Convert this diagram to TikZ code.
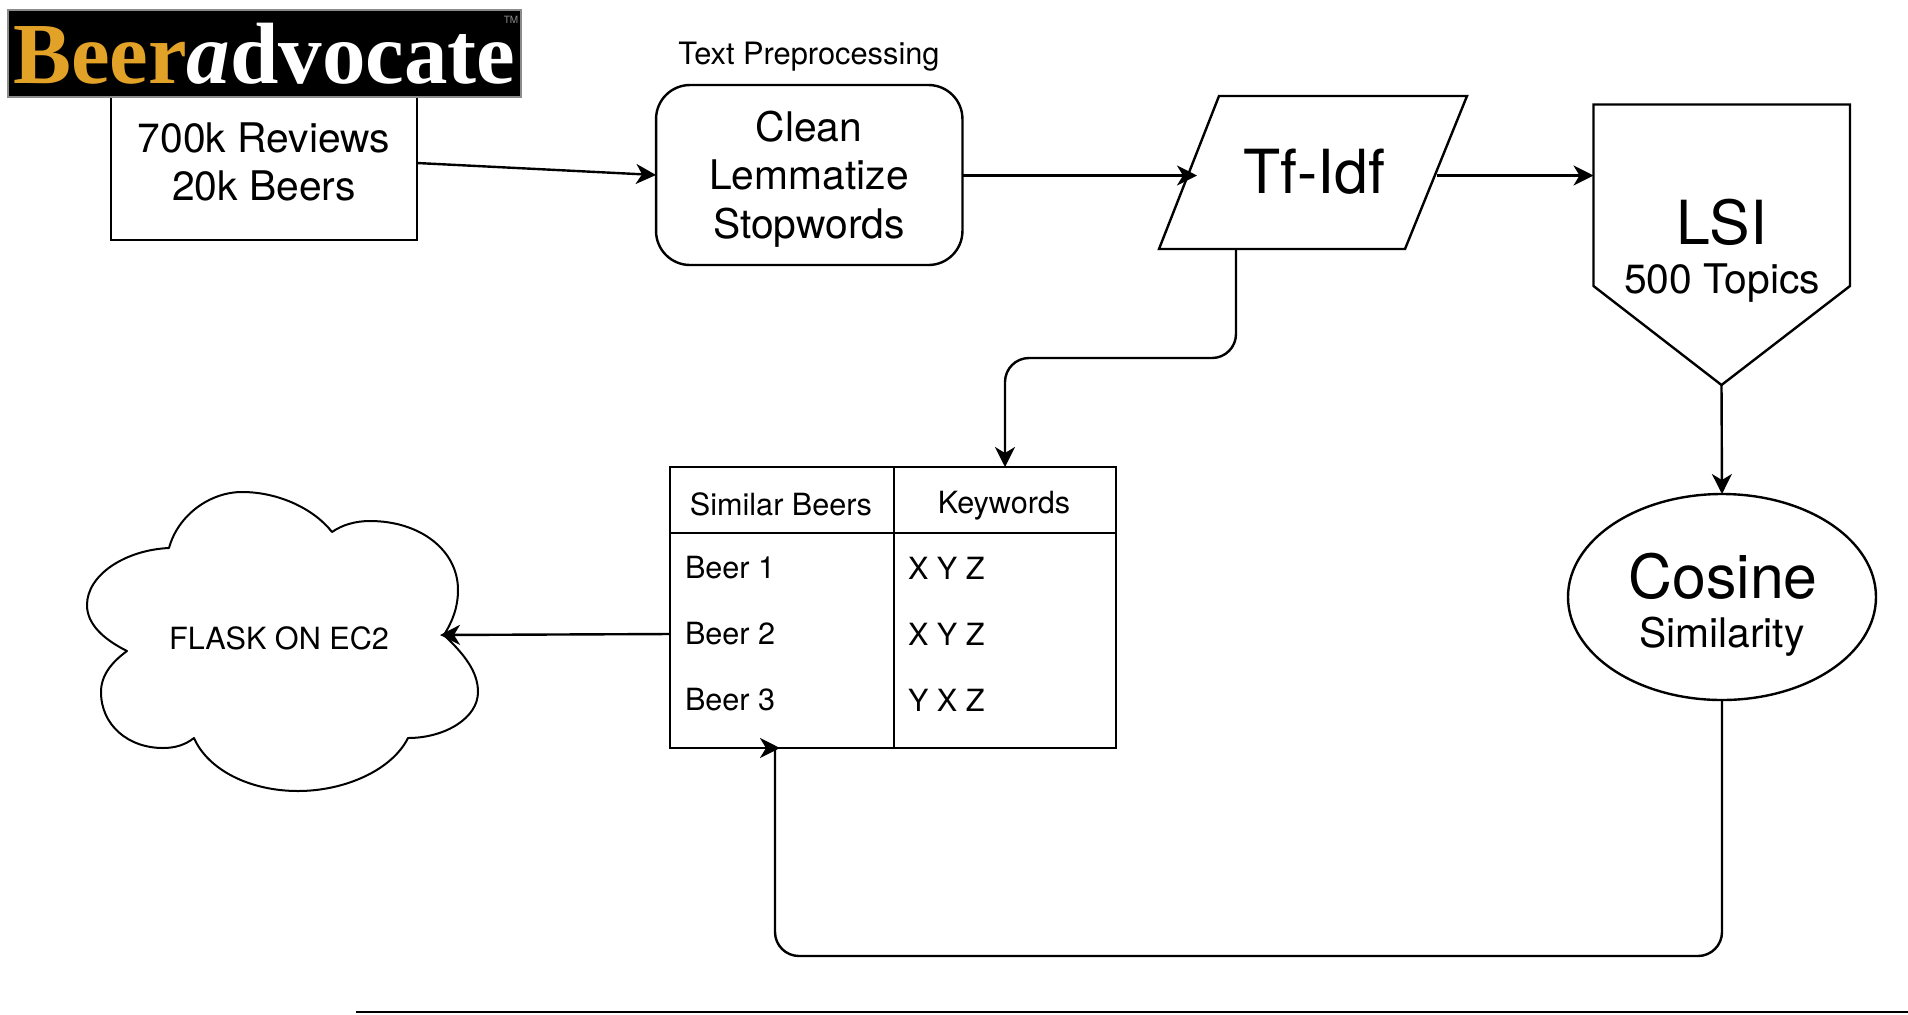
\documentclass[tikz,border=0pt]{standalone}
\usepackage{fontspec}
\setmainfont{TeX Gyre Heros}
\newfontfamily\logofont{Liberation Serif}
\usetikzlibrary{arrows.meta,shapes.geometric}
\definecolor{logogold}{RGB}{226,162,40}
\tikzset{
	px/.style={x=0.5pt,y=-0.5pt},
	flow/.style={draw,line width=1.2pt,-{Stealth[length=10pt,width=10pt,inset=3pt]}},
	stepbox/.style={draw,line width=1.2pt,inner sep=0pt,outer sep=0pt},
	plain/.style={inner sep=0pt,outer sep=0pt,align=center},
	big/.style={plain,font=\fontsize{30.4}{36}\selectfont},
	mid/.style={plain,font=\fontsize{20.4}{24.3}\selectfont},
	small/.style={plain,font=\fontsize{15.3}{18}\selectfont}
}
\begin{document}
\begin{tikzpicture}[px]
		\useasboundingbox (0,0) rectangle (1908,1014);

		\node[stepbox,minimum width=153pt,minimum height=71.5pt] (reviews) at (264,168.5) {};
		\node[stepbox,draw=black!45,fill=black,minimum width=256.5pt,minimum height=43.5pt] (logo) at (264.5,53.5) {};
		\node[plain,anchor=base west,font=\logofont\bfseries\fontsize{43.5}{44}\selectfont] (logotext) at (13,83)
			{\textcolor{logogold}{Beer}\textcolor{white}{\itshape a}\textcolor{white}{dvocate}};
		\node[plain,text=black!45,font=\fontsize{5}{6}\selectfont] (logotm) at (511,20) {TM};
		\node[mid] (reviewstext) at (264,162) {700k Reviews\\20k Beers};

		\node[plain,font=\fontsize{15.4}{19}\selectfont] (prelabel) at (809,57) {Text Preprocessing};
		\node[stepbox,rounded corners=17pt,minimum width=153.2pt,minimum height=90pt] (clean) at (809.25,175) {};
		\node[mid] (cleantext) at (809,179) {Clean\\Lemmatize\\Stopwords};

		\draw[line width=1.2pt,line join=miter] (1219,96) -- (1467,96) -- (1405,249) -- (1159,249) -- cycle;
		\node[big] (tfidf) at (1314,172) {Tf-Idf};
		\coordinate (tfidfin) at (1197,175.5);
		\coordinate (tfidfout) at (1437,175.5);
		\coordinate (tfidfdown) at (1236,249);

		\draw[line width=1.2pt,line join=miter] (1593.5,104.5) -- (1850,104.5) -- (1850,286) -- (1721.5,385) coordinate (lsitip) -- (1593.5,286) -- cycle;
		\coordinate (lsiin) at (1593.5,175.5);
		\node[big] (lsi) at (1722,222) {LSI};
		\node[mid] (topics) at (1722,283) {500 Topics};

		\node[stepbox,ellipse,minimum width=154pt,minimum height=103pt] (cosine) at (1722,597) {};
		\node[big] (cosinetext) at (1723,576) {Cosine};
		\node[mid] (similarity) at (1722,637) {Similarity};

		\node[stepbox,minimum width=223pt,minimum height=140.5pt] (beers) at (893,607.5) {};
		\draw[line width=1.2pt] (894,748) -- (894,467);
		\draw[line width=1.2pt] (670.5,533) -- (1116,533);
		\node[small] (simhead) at (781,504) {Similar Beers};
		\node[small] (keyhead) at (1004,506) {Keywords};
		\node[small,anchor=west] (beer1) at (685,568) {Beer 1};
		\node[small,anchor=west] (beer2) at (685,634) {Beer 2};
		\node[small,anchor=west] (beer3) at (685,700) {Beer 3};
		\node[small,anchor=west] (key1) at (908,568) {X Y Z};
		\node[small,anchor=west] (key2) at (908,634) {X Y Z};
		\node[small,anchor=west] (key3) at (908,700) {Y X Z};
		\coordinate (beersin) at (1005,467);
		\coordinate (beersout) at (670.5,634);
		\coordinate (beerstipa) at (758,748);
		\coordinate (beerstipb) at (780,748);

		\draw[line width=1pt,line join=round] (169,548) .. controls (178,515) and (210,492) .. (242,492) .. controls (280,492) and (315,510) .. (332,532)
		.. controls (342,525) and (355,521) .. (370,521) .. controls (420,521) and (458,550) .. (458,590) .. controls (458,608) and (452,622) .. (444,635)
		.. controls (465,655) and (478,672) .. (478,692) .. controls (478,718) and (445,738) .. (408,738)
		.. controls (392,770) and (345,791) .. (298,791) .. controls (250,791) and (208,770) .. (194,738)
		.. controls (185,745) and (175,748) .. (163,748) .. controls (128,748) and (101,725) .. (101,692) .. controls (101,675) and (112,662) .. (127,651)
		.. controls (105,640) and (87,625) .. (87,605) .. controls (87,575) and (125,550) .. (169,548) -- cycle;
		\node[small] (flask) at (279,638) {FLASK ON EC2};
		\coordinate (flaskin) at (440,635);

		\coordinate (rule) at (356,1012);
		\coordinate (ruleend) at (1908,1012);
		\draw[line width=1pt] (rule) -- (ruleend);

		\draw[flow] (reviews.east |- 0,163) -- (clean.west |- 0,175);
		\draw[flow] (clean.east |- tfidfin) -- (tfidfin);
		\draw[flow] (tfidfout) -- (lsiin);
		\draw[flow,rounded corners=12pt] (tfidfdown) |- (1005,358) -- (beersin);
		\draw[flow] (lsitip) -- (cosine.north);
		\draw[flow] (beersout) -- (flaskin);
		\draw[line width=1.2pt,rounded corners=12pt] (cosine.south) |- (775,956) -- (775,748);
		\draw[flow] (beerstipa) -- (beerstipb);
	\end{tikzpicture}
\end{document}
